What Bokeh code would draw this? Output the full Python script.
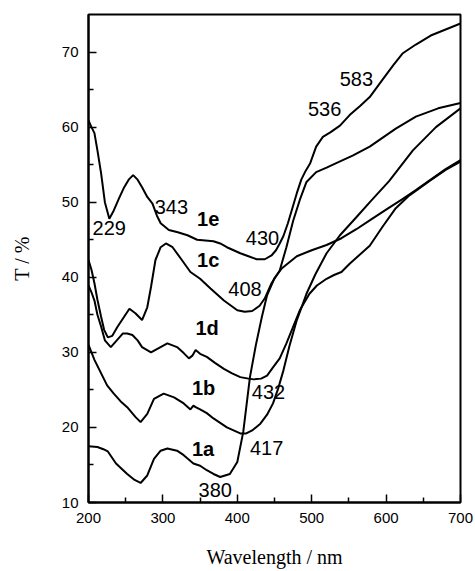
from bokeh.plotting import figure
from bokeh.models import Range1d, FixedTicker
from bokeh.core.properties import value
from bokeh.embed import file_html
from bokeh.resources import INLINE

# ---- data ----
x_1a = [200, 212, 220, 226, 237, 252, 262, 270, 279, 288, 297, 306, 319, 328, 341, 350, 359, 368, 377, 390, 400,
        408, 417, 425, 433, 440, 450, 460, 470, 480, 500, 520, 540, 560, 580, 600, 622, 640, 660, 680, 700]
y_1a = [17.5, 17.4, 17.1, 16.8, 15.2, 13.8, 13.0, 12.6, 13.6, 15.8, 16.9, 17.2, 16.9, 16.3, 15.2, 14.9, 14.3, 13.8, 13.4, 13.8, 15.4,
        19.4, 26.7, 31.0, 34.7, 37.6, 39.9, 41.2, 42.0, 42.8, 43.6, 44.3, 45.2, 46.4, 47.7, 49.0, 50.4, 51.6, 53.0, 54.4, 55.6]

x_1b = [200, 208, 217, 225, 234, 243, 252, 263, 270, 279, 288, 301, 315, 328, 337, 341, 344, 350, 359, 368, 386, 404,
        412, 420, 431, 440, 448, 455, 462, 470, 480, 493, 505, 520, 538, 560, 580, 604, 636, 667, 700]
y_1b = [31.0, 29.0, 27.2, 25.6, 24.5, 23.5, 22.7, 21.4, 20.7, 21.8, 23.8, 24.5, 24.0, 23.2, 22.4, 22.9, 22.7, 22.4, 21.9, 21.2, 20.0, 19.2,
        19.2, 19.6, 20.5, 21.7, 23.2, 25.2, 27.6, 30.8, 34.3, 37.8, 40.4, 43.2, 45.6, 48.0, 50.2, 52.8, 56.9, 60.0, 62.5]

x_1c = [200, 204, 208, 212, 217, 221, 226, 232, 239, 247, 255, 263, 272, 279, 284, 290, 297, 304, 313, 324, 337, 350,
        364, 382, 400, 410, 420, 430, 437, 446, 457, 466, 475, 484, 493, 506, 520, 533, 555, 578, 613, 640, 670, 700]
y_1c = [42.3, 41.0, 39.2, 37.0, 34.7, 33.0, 32.0, 32.2, 33.4, 34.6, 35.8, 35.2, 34.3, 36.0, 38.7, 42.3, 44.0, 44.5, 44.0, 42.5, 40.7, 39.8,
        38.5, 36.9, 35.6, 35.4, 35.5, 36.2, 37.2, 39.2, 40.9, 44.0, 47.5, 50.3, 52.7, 54.0, 54.6, 55.2, 56.2, 57.4, 59.8, 61.4, 62.5, 63.2]

x_1d = [200, 204, 208, 212, 217, 222, 230, 238, 246, 252, 259, 266, 272, 284, 295, 306, 319, 328, 335, 340, 344, 350,
        359, 370, 382, 393, 404, 415, 422, 432, 440, 448, 457, 466, 475, 484, 497, 507, 520, 530, 540, 551, 560,
        578, 595, 613, 630, 658, 680, 700]
y_1d = [38.9, 38.0, 36.9, 35.0, 33.4, 31.6, 30.7, 31.6, 32.5, 32.5, 32.3, 31.6, 30.7, 30.0, 30.6, 31.2, 30.7, 29.9, 29.2, 29.6, 30.3, 29.8,
        29.4, 28.6, 27.8, 27.2, 26.7, 26.5, 26.4, 26.5, 26.9, 28.0, 29.2, 31.2, 33.4, 35.6, 37.8, 38.9, 39.8, 40.3, 40.7, 41.8, 42.6,
        44.2, 46.7, 49.2, 50.8, 52.8, 54.3, 55.4]

x_1e = [200, 204, 208, 212, 217, 222, 228, 234, 241, 248, 254, 260, 266, 272, 279, 286, 292, 297, 308, 320, 333, 346,
        357, 368, 377, 386, 395, 404, 415, 426, 437, 446, 452, 457, 462, 468, 474, 480, 486, 492, 498, 506, 515,
        525, 538, 551, 565, 578, 595, 610, 622, 640, 660, 680, 700]
y_1e = [60.9, 60.0, 59.2, 56.9, 53.8, 50.0, 47.8, 48.9, 50.5, 52.0, 53.0, 53.6, 53.0, 52.0, 50.7, 49.8, 48.2, 47.2, 46.3, 46.0, 45.6, 45.0,
        44.9, 44.8, 44.5, 44.0, 43.6, 43.2, 42.8, 42.4, 42.4, 42.9, 43.6, 44.5, 45.5, 47.2, 49.2, 51.2, 53.0, 54.2, 55.2, 57.4, 58.7,
        59.3, 60.2, 61.6, 62.8, 64.0, 66.3, 68.3, 69.8, 71.0, 72.2, 73.0, 73.8]

# peak annotations
num_text = ["229", "343", "430", "408", "432", "417", "380", "536", "583"]
num_x = [205.5, 289, 411.5, 388, 419.5, 417, 348, 495, 537.6]
num_y = [46.6, 49.3, 45.2, 38.5, 24.7, 17.2, 11.7, 62.4, 66.4]

name_text = ["1e", "1c", "1d", "1b", "1a"]
name_x = [346, 346, 343.7, 339, 339]
name_y = [47.7, 42.3, 33.2, 25.3, 17.1]

x_ticks = [200, 300, 400, 500, 600, 700]
x_minor = [250, 350, 450, 550, 650]
y_ticks = [10, 20, 30, 40, 50, 60, 70]
y_minor = [15, 25, 35, 45, 55, 65]

p = figure(width=475, height=571, output_backend="svg", toolbar_location=None,
           x_range=Range1d(200, 700), y_range=Range1d(10, 75),
           min_border_left=88, min_border_right=15, min_border_top=14, min_border_bottom=69,
           background_fill_color="white", border_fill_color="white")
p.grid.visible = False
p.outline_line_color = "black"
p.outline_line_width = 2
p.outline_line_alpha = 1.0

for xs, ys in [(x_1a, y_1a), (x_1b, y_1b), (x_1c, y_1c), (x_1d, y_1d), (x_1e, y_1e)]:
    p.line(xs, ys, line_color="black", line_width=2)

p.text(x=num_x, y=num_y, text=num_text, text_font=value("Liberation Sans"), text_font_size="20px",
       text_align="left", text_baseline="middle", text_color="black")
p.text(x=name_x, y=name_y, text=name_text, text_font=value("Liberation Sans"), text_font_size="20px",
       text_font_style="bold", text_align="left", text_baseline="middle", text_color="black")

p.xaxis.ticker = FixedTicker(ticks=x_ticks, minor_ticks=x_minor)
p.yaxis.ticker = FixedTicker(ticks=y_ticks, minor_ticks=y_minor)
for ax in (p.xaxis[0], p.yaxis[0]):
    ax.axis_line_width = 2
    ax.axis_line_color = "black"
    ax.major_tick_in = 8
    ax.major_tick_out = 0
    ax.minor_tick_in = 5
    ax.minor_tick_out = 0
    ax.major_tick_line_width = 1.5
    ax.minor_tick_line_width = 1.5
    ax.major_tick_line_color = "black"
    ax.minor_tick_line_color = "black"
    ax.major_label_text_font = "Liberation Sans"
    ax.major_label_text_font_size = "15px"
    ax.major_label_text_color = "black"
    ax.major_label_standoff = 10
    ax.axis_label_text_font = "Liberation Serif"
    ax.axis_label_text_font_size = "20px"
    ax.axis_label_text_font_style = "normal"
    ax.axis_label_text_color = "black"

p.xaxis.axis_label = "Wavelength / nm"
p.yaxis.axis_label = "T / %"
p.xaxis.axis_label_standoff = 20
p.yaxis.axis_label_standoff = 26

open("out.html", "w").write(file_html(p, INLINE))
